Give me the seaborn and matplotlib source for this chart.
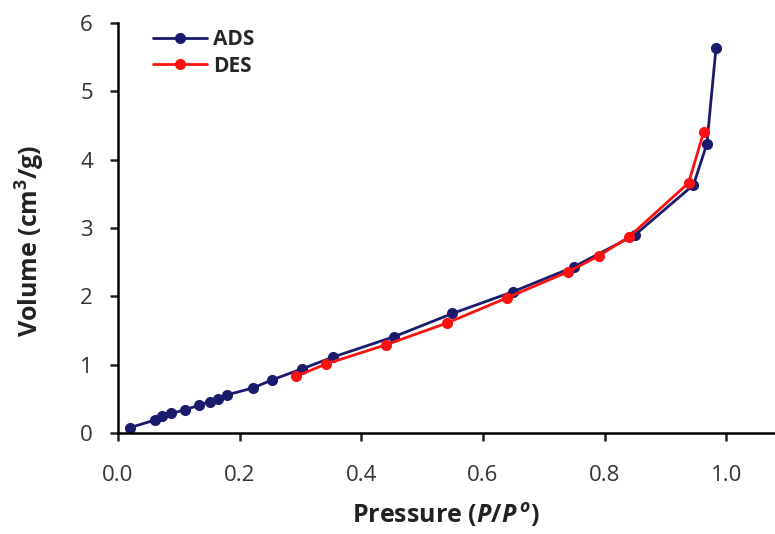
import numpy as np
import pandas as pd
import seaborn as sns
import matplotlib.pyplot as plt

# adsorption branch
ads_p = [0.02, 0.061, 0.072, 0.088, 0.111, 0.134, 0.151, 0.164, 0.18, 0.222, 0.254,
         0.303, 0.353, 0.454, 0.55, 0.65, 0.749, 0.85, 0.946, 0.968, 0.983]
ads_v = [0.08, 0.19, 0.25, 0.29, 0.34, 0.41, 0.46, 0.50, 0.56, 0.66, 0.78,
         0.94, 1.11, 1.41, 1.75, 2.07, 2.43, 2.90, 3.63, 4.23, 5.63]

# desorption branch
des_p = [0.963, 0.938, 0.84, 0.79, 0.74, 0.64, 0.541, 0.44, 0.342, 0.293]
des_v = [4.41, 3.66, 2.87, 2.59, 2.36, 1.98, 1.61, 1.29, 1.01, 0.83]

x_ticks = [0.0, 0.2, 0.4, 0.6, 0.8, 1.0]
y_ticks = [0, 1, 2, 3, 4, 5, 6]

ads = pd.DataFrame({'p': ads_p, 'v': ads_v})
des = pd.DataFrame({'p': des_p, 'v': des_v})

sns.set_style('ticks')
plt.rcParams['font.family'] = ['Open Sans', 'DejaVu Sans']
plt.rcParams['mathtext.fontset'] = 'custom'
plt.rcParams['mathtext.rm'] = 'Open Sans:bold'
plt.rcParams['mathtext.it'] = 'Open Sans:bold:italic'

fig = plt.figure(figsize=(7.75, 5.34), dpi=100)
ax = fig.add_axes([0.152, 0.189, 0.848, 0.768])

sns.lineplot(data=ads, x='p', y='v', sort=False, color='#1b1b6e', lw=2,
             marker='o', markersize=8, markeredgewidth=0, label='ADS', ax=ax)
sns.lineplot(data=des, x='p', y='v', sort=False, color='#ff1010', lw=2,
             marker='o', markersize=8, markeredgewidth=0, label='DES', ax=ax)

ax.set_xlim(0, 1.08)
ax.set_ylim(0, 6)
ax.set_xticks(x_ticks)
ax.set_xticklabels([f'{t:.1f}' for t in x_ticks])
ax.set_yticks(y_ticks)
ax.tick_params(labelsize=16, width=1.8, length=6, colors='#222222', labelcolor='#333333')
ax.tick_params(axis='x', pad=17)
ax.tick_params(axis='y', pad=12)

for s in ['top', 'right']:
    ax.spines[s].set_visible(False)
for s in ['left', 'bottom']:
    ax.spines[s].set_linewidth(1.8)
    ax.spines[s].set_color('black')

ax.set_xlabel('Pressure ($\\it{P/P}^{\\,o}$)', fontsize=18, fontweight='bold',
              color='#222222', labelpad=11)
ax.set_ylabel('Volume (cm$^3$/g)', fontsize=18, fontweight='bold',
              color='#222222')
ax.yaxis.set_label_coords(-0.107, 0.47)

leg = ax.legend(loc='upper left', bbox_to_anchor=(0.025, 1.03), frameon=False,
                handlelength=2.6, handletextpad=0.3, labelspacing=0.25,
                prop={'weight': 'bold', 'size': 15})

fig.savefig('out.png', dpi=100)
